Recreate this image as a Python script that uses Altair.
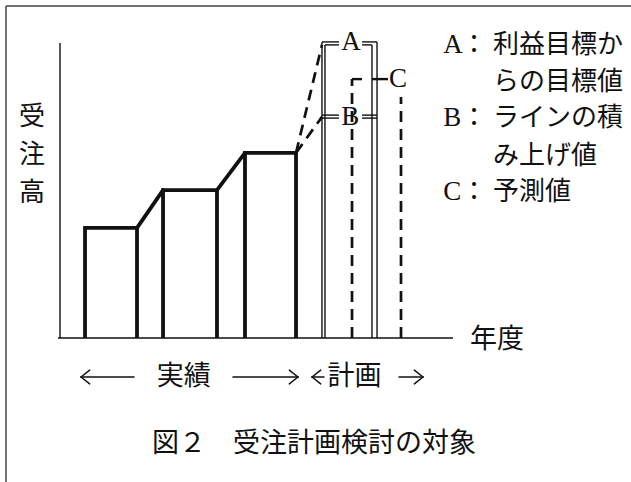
import altair as alt
import pandas as pd

# ---------------- data (x: fiscal-year units, y: order-volume units) ----------------
# actual results (solid bars)
bar_left = [1.078, 2.067, 3.106]
bar_right = [1.737, 2.751, 3.753]
bar_value = [36.7, 49.3, 61.7]

# plan bar A (double outline) and B level inside it
a_outer = [4.082, 4.780]
a_inner = [4.120, 4.716]
a_top = [98.7, 97.7]          # outer / inner top
b_levels = [74.3, 73.3]       # double line for B
label_gap = [4.298, 4.590]    # gap left for the A / B letters

# forecast bar C (dashed)
c_left, c_right = 4.463, 5.084
c_value = 86.3
c_right_top = 80.3
c_tick = [4.716, 4.919]

# axes / frame
y_axis_x = 0.761
y_axis_top = 98.3
x_axis_span = [0.735, 5.743]
frame_x, frame_y = 0.076, 110.67
X_DOMAIN = [0, 8]
Y_DOMAIN = [-48, 112.667]

# texts
ylabel_chars = ["受", "注", "高"]
ylabel_y = [73.7, 61.0, 48.3]
ylabel_x = 0.406
xlabel = "年度"
xlabel_pos = (6.301, -0.7)
legend_letters = ["A", "", "B", "", "C"]
legend_lines = ["利益目標か", "らの目標値", "ラインの積", "み上げ値", "予測値"]
legend_y = [97.7, 85.3, 73.3, 60.7, 48.7]
legend_letter_x, legend_colon_x, legend_text_x = 5.620, 6.010, 6.25
bracket_labels = ["A", "B", "C"]
bracket_label_x = [4.45, 4.44, 5.046]
bracket_label_y = [98.7, 73.8, 86.3]
period_labels = ["実績", "計画"]
period_label_x = [2.33, 4.495]
period_y = -13.0
arrow_from = [1.699, 2.954, 4.108, 5.059]
arrow_to = [1.027, 3.778, 3.956, 5.363]
caption = "図２　受注計画検討の対象"
caption_pos = (1.927, -35.3)

FONT_CJK = "Noto Sans CJK JP"
FONT_SERIF = "Liberation Serif"
INK = "#111111"

xs = alt.Scale(domain=X_DOMAIN, nice=False, zero=False)
ys = alt.Scale(domain=Y_DOMAIN, nice=False, zero=False)

def X(f="x"):
    return alt.X(f"{f}:Q", scale=xs, axis=None)

def Y(f="y"):
    return alt.Y(f"{f}:Q", scale=ys, axis=None)

# ---------------- bars as open paths ----------------
rows = []
for i, (l, r, v) in enumerate(zip(bar_left, bar_right, bar_value)):
    for k, (px, py) in enumerate([(l, 0), (l, v), (r, v), (r, 0)]):
        rows.append({"bar": i, "o": k, "x": px, "y": py})
bars_df = pd.DataFrame(rows)
bars = alt.Chart(bars_df).mark_line(color=INK, strokeWidth=3.8, strokeJoin="miter").encode(
    x=X(), y=Y(), detail="bar:N", order="o:Q")

def seg(x, y, x2, y2):
    return {"x": x, "y": y, "x2": x2, "y2": y2}

# connectors between actual bars
conn = [seg(bar_right[i], bar_value[i], bar_left[i + 1], bar_value[i + 1]) for i in range(len(bar_value) - 1)]
conn_layer = alt.Chart(pd.DataFrame(conn)).mark_rule(color=INK, strokeWidth=3.8, strokeCap="round").encode(
    x=X(), y=Y(), x2="x2:Q", y2="y2:Q")

# thin double outline for A, and B level
thin = []
for xl, xr, top in [(a_outer[0], a_outer[1], a_top[0]), (a_inner[0], a_inner[1], a_top[1])]:
    thin.append(seg(xl, 0, xl, top))
    thin.append(seg(xr, 0, xr, top))
    thin.append(seg(xl, top, label_gap[0], top))
    thin.append(seg(label_gap[1], top, xr, top))
for b in b_levels:
    thin.append(seg(a_outer[0], b, label_gap[0], b))
    thin.append(seg(label_gap[1], b, a_outer[1], b))
# axes
thin.append(seg(y_axis_x, 0, y_axis_x, y_axis_top))
thin.append(seg(x_axis_span[0], 0, x_axis_span[1], 0))
thin_layer = alt.Chart(pd.DataFrame(thin)).mark_rule(color=INK, strokeWidth=1.4).encode(
    x=X(), y=Y(), x2="x2:Q", y2="y2:Q")

# frame (top and left only)
frame = [seg(frame_x, frame_y, X_DOMAIN[1], frame_y), seg(frame_x, Y_DOMAIN[0], frame_x, frame_y)]
frame_layer = alt.Chart(pd.DataFrame(frame)).mark_rule(color="#444444", strokeWidth=1.5).encode(
    x=X(), y=Y(), x2="x2:Q", y2="y2:Q")

# C top (solid, medium)
c_top = [seg(c_left, c_value, label_gap[1], c_value), seg(c_tick[0], c_value, c_tick[1], c_value)]
c_top_layer = alt.Chart(pd.DataFrame(c_top)).mark_rule(color=INK, strokeWidth=2.4).encode(
    x=X(), y=Y(), x2="x2:Q", y2="y2:Q")

# dashed lines: slopes to A and B, C verticals
dashed = [
    seg(bar_right[-1], bar_value[-1], a_outer[0], a_top[1]),
    seg(bar_right[-1], bar_value[-1], a_outer[0], b_levels[0] - 0.6),
    seg(c_left, 0, c_left, c_value),
    seg(c_right, 0, c_right, c_right_top),
]
dashed_layer = alt.Chart(pd.DataFrame(dashed)).mark_rule(color=INK, strokeWidth=2.7, strokeDash=[11, 7]).encode(
    x=X(), y=Y(), x2="x2:Q", y2="y2:Q")

# arrows (shaft + chevron head)
HEAD_DX, HEAD_DY = 0.11, 2.3
arr = []
for a, b in zip(arrow_from, arrow_to):
    arr.append(seg(a, period_y, b, period_y))
    d = HEAD_DX if b < a else -HEAD_DX
    arr.append(seg(b, period_y, b + d, period_y + HEAD_DY))
    arr.append(seg(b, period_y, b + d, period_y - HEAD_DY))
arrow_layer = alt.Chart(pd.DataFrame(arr)).mark_rule(color=INK, strokeWidth=1.5, strokeCap="round").encode(
    x=X(), y=Y(), x2="x2:Q", y2="y2:Q")

# ---------------- texts ----------------
def text_layer(df, font, size, align="center"):
    return alt.Chart(df).mark_text(font=font, fontSize=size, align=align, baseline="middle", color=INK).encode(
        x=X(), y=Y(), text="t:N")

ylab = text_layer(pd.DataFrame({"x": [ylabel_x] * 3, "y": ylabel_y, "t": ylabel_chars}), FONT_CJK, 26)
xlab = text_layer(pd.DataFrame({"x": [xlabel_pos[0]], "y": [xlabel_pos[1]], "t": [xlabel]}), FONT_CJK, 27)

leg_letters_df = pd.DataFrame({"x": legend_letter_x, "y": legend_y, "t": legend_letters})
leg_letters_df = leg_letters_df[leg_letters_df.t != ""]
leg_letters = text_layer(leg_letters_df, FONT_SERIF, 27, "left")
leg_colon = text_layer(leg_letters_df.assign(x=legend_colon_x, t="："), FONT_CJK, 26)
leg_text = text_layer(pd.DataFrame({"x": legend_text_x, "y": legend_y, "t": legend_lines}), FONT_CJK, 26, "left")

brk = text_layer(pd.DataFrame({"x": bracket_label_x, "y": bracket_label_y, "t": bracket_labels}), FONT_SERIF, 27)
period = text_layer(pd.DataFrame({"x": period_label_x, "y": period_y, "t": period_labels}), FONT_CJK, 27)
cap = text_layer(pd.DataFrame({"x": [caption_pos[0]], "y": [caption_pos[1]], "t": [caption]}), FONT_CJK, 27, "left")

chart = alt.layer(
    frame_layer, thin_layer, bars, conn_layer, c_top_layer, dashed_layer, arrow_layer,
    ylab, xlab, leg_letters, leg_colon, leg_text, brk, period, cap,
).properties(
    width=631, height=482, padding=0, autosize=alt.AutoSizeParams(type="none"),
    background="white",
).configure_view(stroke=None)

chart.save("out.html", embed_options={"renderer": "svg", "actions": False})
